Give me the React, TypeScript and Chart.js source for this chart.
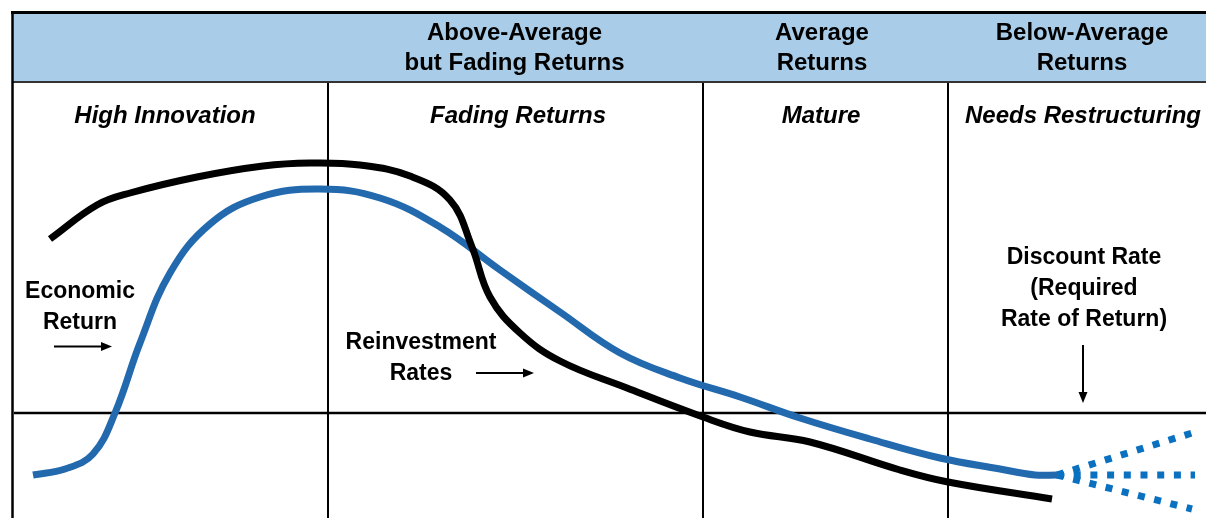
import React, { useEffect, useRef } from "react";
import { Chart, registerables } from "chart.js";

Chart.register(...registerables);

// x: position in the corporate life cycle, y: return relative to the discount rate (0)
const stageBoundaries = [32.8, 70.3, 94.8];
const stageNames = ["High Innovation", "Fading Returns", "Mature", "Needs Restructuring"];
const stageNameX = [16.5, 51.8, 82.1, 108.3];
const headerLines = [
  ["Above-Average", "but Fading Returns"],
  ["Average", "Returns"],
  ["Below-Average", "Returns"],
];
const headerX = [51.45, 82.2, 108.2];
const discountRate = 0;

// Economic Return (blue)
const returnX = [3.3, 6.5, 9.3, 11.5, 14.0, 17.0, 21.0, 26.0, 32.0, 38.0, 44.0, 50.0, 56.0, 62.0, 68.0, 74.0, 80.0, 87.0, 94.0, 100.0, 103.5, 105.7];
const returnY = [-6.2, -5.6, -4.1, 0.0, 7.0, 14.0, 18.9, 21.6, 22.4, 21.5, 18.6, 14.3, 10.1, 6.0, 3.5, 1.6, -0.5, -2.6, -4.5, -5.6, -6.2, -6.2];

// Reinvestment Rates (black)
const reinvestX = [5.0, 9.7, 13.0, 19.7, 26.3, 31.0, 36.0, 41.0, 45.0, 47.2, 49.0, 52.0, 56.0, 62.7, 70.3, 75.0, 81.0, 90.0, 94.8, 105.2];
const reinvestY = [17.4, 20.8, 22.0, 23.6, 24.7, 25.0, 24.8, 23.7, 21.3, 16.6, 11.6, 8.0, 5.2, 2.5, -0.4, -1.9, -2.9, -5.7, -6.9, -8.6];

// Possible future paths of economic return (dotted fan)
const fanStartX = 105.7;
const fanStartY = -6.2;
const fanEndX = [119.2, 119.5, 119.2];
const fanEndY = [-2.0, -6.2, -9.6];

const X_MIN = 0;
const X_MAX = 120.6;
const Y_MIN = -10.5;
const Y_MAX = 41.3;

const BLUE = "#2369ae";
const DOT_BLUE = "#0a70c0";
const HEADER_FILL = "#a9cde8";
const FONT = '"Liberation Sans", Arial, Helvetica, sans-serif';

function toPoints(xs: number[], ys: number[]) {
  return xs.map((x, i) => ({ x, y: ys[i] }));
}

function arrow(ctx: CanvasRenderingContext2D, x1: number, y1: number, x2: number, y2: number) {
  const ang = Math.atan2(y2 - y1, x2 - x1);
  const head = 11;
  const half = 4.5;
  ctx.save();
  ctx.strokeStyle = "#000";
  ctx.fillStyle = "#000";
  ctx.lineWidth = 2;
  ctx.beginPath();
  ctx.moveTo(x1, y1);
  ctx.lineTo(x2 - Math.cos(ang) * head, y2 - Math.sin(ang) * head);
  ctx.stroke();
  ctx.beginPath();
  ctx.moveTo(x2, y2);
  ctx.lineTo(x2 - Math.cos(ang) * head - Math.sin(ang) * half, y2 - Math.sin(ang) * head + Math.cos(ang) * half);
  ctx.lineTo(x2 - Math.cos(ang) * head + Math.sin(ang) * half, y2 - Math.sin(ang) * head - Math.cos(ang) * half);
  ctx.closePath();
  ctx.fill();
  ctx.restore();
}

const framePlugin = {
  id: "lifecycleFrame",
  beforeDatasetsDraw(chart: any) {
    const { ctx, scales, width, height } = chart;
    const xs = scales.x;
    const ys = scales.y;
    const left = 12;
    const top = 12;
    const headerBottom = 82;
    ctx.save();
    ctx.fillStyle = "#fff";
    ctx.fillRect(0, 0, width, height);
    // header band
    ctx.fillStyle = HEADER_FILL;
    ctx.fillRect(left, top, width - left, headerBottom - top);
    ctx.strokeStyle = "#000";
    ctx.lineWidth = 3;
    ctx.beginPath();
    ctx.moveTo(left - 1, top + 0.5);
    ctx.lineTo(width, top + 0.5);
    ctx.stroke();
    ctx.strokeStyle = "#333";
    ctx.lineWidth = 2;
    ctx.beginPath();
    ctx.moveTo(left, headerBottom);
    ctx.lineTo(width, headerBottom);
    ctx.stroke();
    // left border
    ctx.strokeStyle = "#000";
    ctx.lineWidth = 2.5;
    ctx.beginPath();
    ctx.moveTo(left + 0.5, top - 1);
    ctx.lineTo(left + 0.5, height);
    ctx.stroke();
    // stage boundaries
    ctx.lineWidth = 2;
    stageBoundaries.forEach((b) => {
      const px = xs.getPixelForValue(b);
      ctx.beginPath();
      ctx.moveTo(px, headerBottom + 1);
      ctx.lineTo(px, height);
      ctx.stroke();
    });
    // discount rate line
    const dy = ys.getPixelForValue(discountRate);
    ctx.lineWidth = 2.5;
    ctx.beginPath();
    ctx.moveTo(left + 2, dy);
    ctx.lineTo(width, dy);
    ctx.stroke();

    // header text
    ctx.fillStyle = "#000";
    ctx.textAlign = "center";
    ctx.textBaseline = "alphabetic";
    ctx.font = `bold 24px ${FONT}`;
    headerLines.forEach((lines, i) => {
      const px = xs.getPixelForValue(headerX[i]);
      lines.forEach((t, j) => ctx.fillText(t, px, 40 + j * 30));
    });
    // stage names
    ctx.font = `italic bold 24px ${FONT}`;
    stageNames.forEach((t, i) => {
      ctx.fillText(t, xs.getPixelForValue(stageNameX[i]), 123);
    });

    // annotations
    ctx.font = `bold 23px ${FONT}`;
    const ax = (v: number) => xs.getPixelForValue(v);
    const ay = (v: number) => ys.getPixelForValue(v);
    ctx.fillText("Economic", ax(8.0), ay(11.5));
    ctx.fillText("Return", ax(8.0), ay(8.4));
    arrow(ctx, ax(5.4), ay(6.65), ax(11.2), ay(6.65));

    ctx.fillText("Reinvestment", ax(42.1), ay(6.4));
    ctx.fillText("Rates", ax(42.1), ay(3.3));
    arrow(ctx, ax(47.6), ay(4.0), ax(53.4), ay(4.0));

    ctx.fillText("Discount Rate", ax(108.4), ay(14.9));
    ctx.fillText("(Required", ax(108.4), ay(11.8));
    ctx.fillText("Rate of Return)", ax(108.4), ay(8.7));
    arrow(ctx, ax(108.3), ay(6.8), ax(108.3), ay(1.0));
    ctx.restore();
  },
};

export default function App() {
  const ref = useRef<HTMLCanvasElement | null>(null);
  useEffect(() => {
    if (!ref.current) return;
    const fanSets = fanEndY.map((ey, i) => ({
      data: [
        { x: fanStartX, y: fanStartY },
        { x: fanEndX[i], y: ey },
      ],
      borderColor: DOT_BLUE,
      borderWidth: 7,
      borderDash: [7, 9.7],
      borderCapStyle: "butt" as const,
      tension: 0,
      pointRadius: 0,
      fill: false,
    }));
    const chart = new Chart(ref.current, {
      type: "line",
      data: {
        datasets: [
          {
            label: "Reinvestment Rates",
            data: toPoints(reinvestX, reinvestY),
            borderColor: "#000",
            borderWidth: 7,
            tension: 0.4,
            pointRadius: 0,
            borderCapStyle: "butt",
            borderJoinStyle: "round",
            fill: false,
          },
          {
            label: "Economic Return",
            data: toPoints(returnX, returnY),
            borderColor: BLUE,
            borderWidth: 7,
            tension: 0.4,
            pointRadius: 0,
            borderCapStyle: "butt",
            borderJoinStyle: "round",
            fill: false,
          },
          ...fanSets,
        ],
      },
      options: {
        animation: false,
        responsive: false,
        devicePixelRatio: 1,
        layout: { padding: 0 },
        plugins: { legend: { display: false }, tooltip: { enabled: false }, title: { display: false } },
        scales: {
          x: { type: "linear", min: X_MIN, max: X_MAX, display: false },
          y: { type: "linear", min: Y_MIN, max: Y_MAX, display: false },
        },
        events: [],
      },
      plugins: [framePlugin],
    });
    return () => chart.destroy();
  }, []);
  return (
    <div style={{ position: "fixed", left: 0, top: 0, width: 1206, height: 518, background: "#fff" }}>
      <canvas ref={ref} width={1206} height={518} style={{ display: "block" }} />
    </div>
  );
}
